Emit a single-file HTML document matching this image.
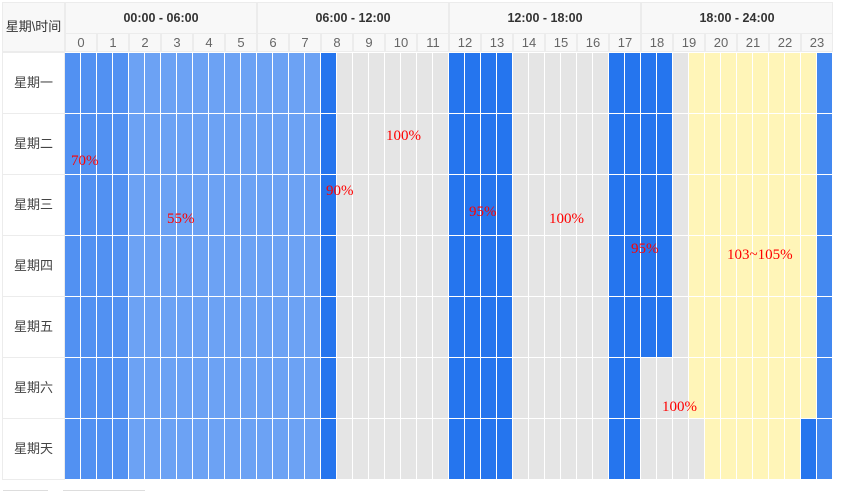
<!DOCTYPE html>
<html><head><meta charset="utf-8"><style>
body{margin:0;width:841px;height:492px;background:#fff;position:relative;overflow:hidden;font-family:"Liberation Sans","Noto Sans CJK SC",sans-serif}
.a{position:absolute;box-sizing:border-box}
.h{background:#f8f8f8;border:1px solid #ececec;color:#333;font-size:13px;text-align:center}
.g{font-weight:bold;font-size:12.5px;line-height:30px}
.n{color:#666;font-size:13px;line-height:18px}
.lab{border:1px solid #ececec;background:#fff;color:#444;font-size:13px;text-align:center;line-height:60px}
.row{left:65px;width:768px;height:60px}
.r{position:absolute;color:#f00;font-family:"Liberation Serif",serif;font-size:15px}
</style></head><body>
<div class="a h" style="left:2px;top:2px;width:63px;height:50px;line-height:48px;">星期\时间</div>
<div class="a h g" style="left:65px;top:2px;width:192px;height:32px">00:00 - 06:00</div>
<div class="a h g" style="left:257px;top:2px;width:192px;height:32px">06:00 - 12:00</div>
<div class="a h g" style="left:449px;top:2px;width:192px;height:32px">12:00 - 18:00</div>
<div class="a h g" style="left:641px;top:2px;width:192px;height:32px">18:00 - 24:00</div>
<div class="a" style="left:65px;top:33px;width:768px;height:19px;display:flex">
<div class="h n" style="width:32px">0</div><div class="h n" style="width:32px">1</div><div class="h n" style="width:32px">2</div><div class="h n" style="width:32px">3</div><div class="h n" style="width:32px">4</div><div class="h n" style="width:32px">5</div><div class="h n" style="width:32px">6</div><div class="h n" style="width:32px">7</div><div class="h n" style="width:32px">8</div><div class="h n" style="width:32px">9</div><div class="h n" style="width:32px">10</div><div class="h n" style="width:32px">11</div><div class="h n" style="width:32px">12</div><div class="h n" style="width:32px">13</div><div class="h n" style="width:32px">14</div><div class="h n" style="width:32px">15</div><div class="h n" style="width:32px">16</div><div class="h n" style="width:32px">17</div><div class="h n" style="width:32px">18</div><div class="h n" style="width:32px">19</div><div class="h n" style="width:32px">20</div><div class="h n" style="width:32px">21</div><div class="h n" style="width:32px">22</div><div class="h n" style="width:32px">23</div>
</div>
<style>
.std{background:repeating-linear-gradient(to right,transparent 0 15px,#fff 15px 16px),linear-gradient(to right,#5291f2 0 64px,#6ca2f4 64px 256px,#2575ee 256px 272px,#e5e5e5 272px 384px,#2575ee 384px 448px,#e5e5e5 448px 544px,#2575ee 544px 608px,#e5e5e5 608px 624px,#fff5b8 624px 752px,#4388f0 752px 768px)}
.sat{background:repeating-linear-gradient(to right,transparent 0 15px,#fff 15px 16px),linear-gradient(to right,#5291f2 0 64px,#6ca2f4 64px 256px,#2575ee 256px 272px,#e5e5e5 272px 384px,#2575ee 384px 448px,#e5e5e5 448px 544px,#2575ee 544px 576px,#e5e5e5 576px 624px,#fff5b8 624px 752px,#4388f0 752px 768px)}
.sun{background:repeating-linear-gradient(to right,transparent 0 15px,#fff 15px 16px),linear-gradient(to right,#5291f2 0 64px,#6ca2f4 64px 256px,#2575ee 256px 272px,#e5e5e5 272px 384px,#2575ee 384px 448px,#e5e5e5 448px 544px,#2575ee 544px 576px,#e5e5e5 576px 640px,#fff5b8 640px 736px,#2575ee 736px 752px,#4388f0 752px 768px)}
</style>
<div class="a lab" style="left:2px;top:52px;width:63px;height:62px">星期一</div>
<div class="a lab" style="left:2px;top:113px;width:63px;height:62px">星期二</div>
<div class="a lab" style="left:2px;top:174px;width:63px;height:62px">星期三</div>
<div class="a lab" style="left:2px;top:235px;width:63px;height:62px">星期四</div>
<div class="a lab" style="left:2px;top:296px;width:63px;height:62px">星期五</div>
<div class="a lab" style="left:2px;top:357px;width:63px;height:62px">星期六</div>
<div class="a lab" style="left:2px;top:418px;width:63px;height:62px">星期天</div>
<div class="a row std" style="top:53px"></div>
<div class="a row std" style="top:114px"></div>
<div class="a row std" style="top:175px"></div>
<div class="a row std" style="top:236px"></div>
<div class="a row std" style="top:297px"></div>
<div class="a row sat" style="top:358px"></div>
<div class="a row sun" style="top:419px"></div>
<div class="r" style="left:71px;top:153px">70%</div>
<div class="r" style="left:386px;top:128px">100%</div>
<div class="r" style="left:326px;top:183px">90%</div>
<div class="r" style="left:167px;top:211px">55%</div>
<div class="r" style="left:469px;top:204px">95%</div>
<div class="r" style="left:549px;top:211px">100%</div>
<div class="r" style="left:631px;top:241px">95%</div>
<div class="r" style="left:727px;top:247px">103~105%</div>
<div class="r" style="left:662px;top:399px">100%</div>
<div class="a" style="left:3px;top:490px;width:45px;height:4px;border-top:1px solid #ddd"></div>
<div class="a" style="left:63px;top:490px;width:82px;height:4px;border-top:1px solid #ddd"></div>
</body></html>
